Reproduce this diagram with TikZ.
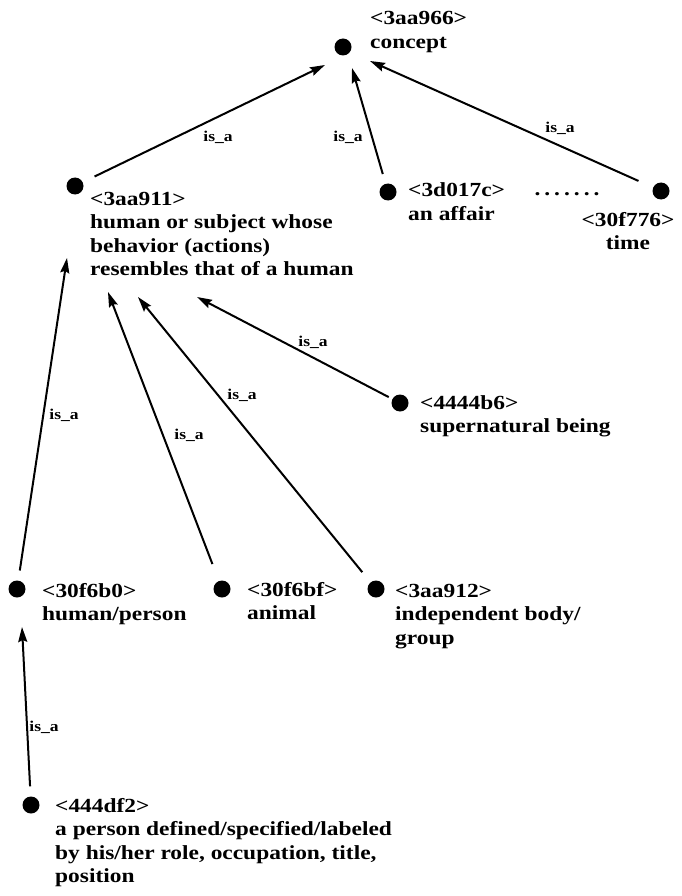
\documentclass[tikz,border=0pt]{standalone}
\usepackage{fontspec}
\setmainfont{Liberation Serif}[FakeStretch=1.17]
\usetikzlibrary{arrows.meta}
\begin{document}
\begin{tikzpicture}[x=1pt,y=-1pt,
  dot/.style={circle,fill=black,inner sep=0pt,minimum size=17pt},
  txt/.style={font=\bfseries\fontsize{20}{23.5}\selectfont,align=left,inner sep=0pt,anchor=base west},
  isa/.style={font=\bfseries\fontsize{15}{17}\selectfont,inner sep=0pt},
  arr/.style={line width=2pt,-{Stealth[length=15pt,width=9pt,inset=2pt]}}]
\useasboundingbox (0,0) rectangle (682,896);
% nodes (text nodes are placed by the baseline of their last line)
\node[dot] (n966) at (343,47) {};
\node[txt] (t966) at (370,48.5) {<3aa966>\\concept};
\node[dot] (n911) at (75,186) {};
\node[txt] (t911) at (90,275.5) {<3aa911>\\human or subject whose\\behavior (actions)\\resembles that of a human};
\node[dot] (n17c) at (388,192) {};
\node[txt] (t17c) at (408,220) {<3d017c>\\an affair};
\node[txt,anchor=base] (ell) at (567,196) {.\kern4pt.\kern4pt.\kern4pt.\kern4pt.\kern4pt.\kern4pt.};
\node[dot] (n776) at (661,191) {};
\node[txt,align=center,anchor=base] (t776) at (628,249.5) {<30f776>\\time};
\node[dot] (nb6) at (400,403) {};
\node[txt] (tb6) at (420,432.5) {<4444b6>\\supernatural being};
\node[dot] (nb0) at (17,589) {};
\node[txt] (tb0) at (42,620.5) {<30f6b0>\\human/person};
\node[dot] (nbf) at (222,589) {};
\node[txt] (tbf) at (247,619.5) {<30f6bf>\\animal};
\node[dot] (n912) at (376,589) {};
\node[txt] (t912) at (395,644) {<3aa912>\\independent body/\\group};
\node[dot] (ndf2) at (31,805) {};
\node[txt] (tdf2) at (55,882.5) {<444df2>\\a person defined/specified/labeled\\by his/her role, occupation, title,\\position};
% arrow tips
\coordinate (h1) at (325,65);
\coordinate (h2) at (352,68);
\coordinate (h3) at (370,61);
\coordinate (h4) at (67,258);
\coordinate (h5) at (108,292);
\coordinate (h6) at (138,297);
\coordinate (h7) at (197,297);
\coordinate (h8) at (22,627);
% connectors
\draw[arr,shorten <=13pt] (n911) -- (h1);
\draw[arr,shorten <=10pt] (n17c) -- (h2);
\draw[arr,shorten <=16pt] (n776) -- (h3);
\draw[arr,shorten <=10pt] (nb0) -- (h4);
\draw[arr,shorten <=18pt] (nbf) -- (h5);
\draw[arr,shorten <=13pt] (n912) -- (h6);
\draw[arr,shorten <=4pt] (nb6) -- (h7);
\draw[arr,shorten <=10pt] (ndf2) -- (h8);
% labels
\node[isa] (l1) at (218,137) {is\_a};
\node[isa] (l2) at (348,137) {is\_a};
\node[isa] (l3) at (560,128) {is\_a};
\node[isa] (l4) at (64,415) {is\_a};
\node[isa] (l5) at (189,435) {is\_a};
\node[isa] (l6) at (242,395) {is\_a};
\node[isa] (l7) at (313,342) {is\_a};
\node[isa] (l8) at (44,727) {is\_a};
\end{tikzpicture}
\end{document}
